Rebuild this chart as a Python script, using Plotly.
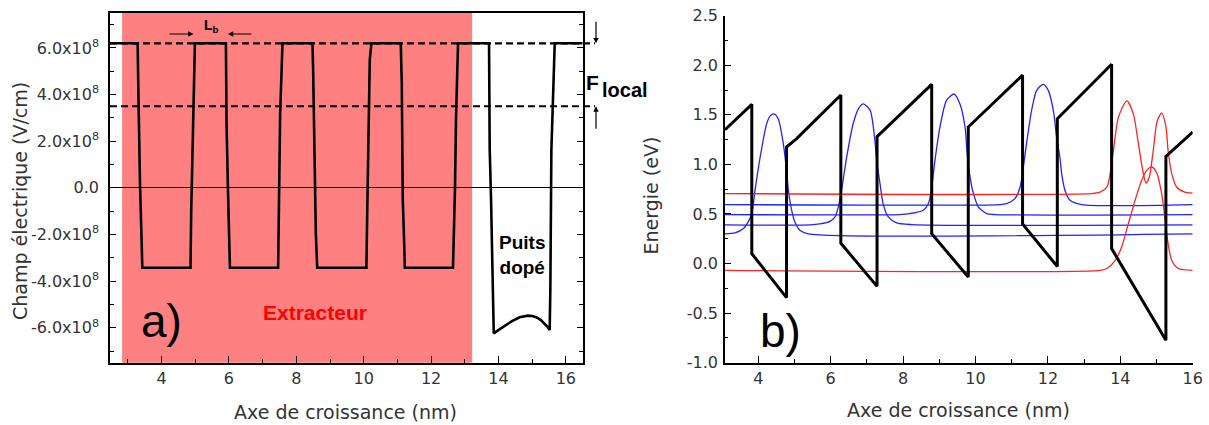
import plotly.graph_objects as go

W, H = 1209, 425

# ---------------- panel a) : electric field ----------------
field_x = [2.47, 3.29, 3.31, 3.36, 3.43, 4.86, 4.88, 4.93, 4.99, 5.91, 5.93, 5.97, 6.00, 6.03,
           7.46, 7.48, 7.52, 7.59, 8.48, 8.50, 8.55, 8.58, 8.62, 10.08, 10.10, 10.14, 10.18, 10.23,
           11.10, 11.13, 11.16, 11.20, 11.22, 12.65, 12.67, 12.71, 12.74, 12.78, 12.80,
           13.72, 13.74, 13.78, 13.82, 13.84, 13.86, 14.05, 14.23, 14.40, 14.63, 14.75, 14.87,
           15.00, 15.12, 15.25, 15.37, 15.45, 15.52, 15.54, 15.57, 15.62, 15.67, 16.5]
field_y = [6.2e8, 6.2e8, 4.3e8, 0.2e8, -3.43e8, -3.43e8, -1.0e8, 3.0e8, 6.2e8, 6.2e8, 2.7e8, 0.0, -2.3e8, -3.43e8,
           -3.43e8, -1.8e8, 3.2e8, 6.2e8, 6.2e8, 5.0e8, -0.5e8, -2.0e8, -3.43e8, -3.43e8, -1.5e8, 2.0e8, 5.5e8, 6.2e8,
           6.2e8, 4.5e8, -0.5e8, -2.3e8, -3.43e8, -3.43e8, -2.5e8, 0.0, 3.0e8, 6.0e8, 6.2e8,
           6.2e8, 1.65e8, -0.5e8, -3.0e8, -4.5e8, -6.24e8, -6.05e8, -5.88e8, -5.72e8, -5.55e8, -5.5e8, -5.48e8,
           -5.5e8, -5.55e8, -5.66e8, -5.81e8, -5.95e8, -6.1e8, -4.3e8, 1.6e8, 3.9e8, 6.2e8, 6.2e8]

extractor_range = [2.83, 13.22]
dashed_levels = [6.2e8, 3.5e8]
lb_edges = [4.95, 5.97]
lb_tails = [4.19, 6.71]
lb_arrow_level = 6.6e8

a_yticks = [6e8, 4e8, 2e8, 0, -2e8, -4e8, -6e8]
a_yticktext = ["6.0x10<sup>8</sup>", "4.0x10<sup>8</sup>", "2.0x10<sup>8</sup>", "0.0",
               "-2.0x10<sup>8</sup>", "-4.0x10<sup>8</sup>", "-6.0x10<sup>8</sup>"]
a_xticks = [4, 6, 8, 10, 12, 14, 16]

# ---------------- panel b) : band diagram ----------------
band_x = [3.08, 3.82, 3.82, 4.78, 4.78, 5.06, 6.28, 6.28, 7.28, 7.28, 8.79, 8.79, 9.80, 9.80,
          11.30, 11.30, 12.26, 12.26, 13.76, 13.76, 15.26, 15.26, 16.0]
band_y = [1.35, 1.606, 0.10, -0.343, 1.175, 1.26, 1.70, 0.205, -0.23, 1.28, 1.807, 0.30, -0.135, 1.377,
          1.90, 0.40, -0.03, 1.46, 2.01, 0.151, -0.773, 1.08, 1.327]

wf_blue1_x = [3.08, 3.36, 3.59, 3.72, 3.82, 3.91, 4.05, 4.23, 4.33, 4.43, 4.55, 4.69, 4.78, 4.83,
              4.92, 5.01, 5.15, 5.38, 16.0]
wf_blue1_y = [0.30, 0.31, 0.353, 0.42, 0.50, 0.74, 1.07, 1.41, 1.49, 1.51, 1.46, 1.21, 0.94, 0.74,
              0.54, 0.42, 0.336, 0.30, 0.30]

wf_blue2_x = [3.08, 5.43, 5.70, 5.98, 6.12, 6.21, 6.30, 6.44, 6.62, 6.78, 6.90, 7.09, 7.22, 7.27,
              7.36, 7.45, 7.59, 7.82, 8.24, 16.0]
wf_blue2_y = [0.39, 0.39, 0.40, 0.426, 0.47, 0.57, 0.74, 1.07, 1.41, 1.57, 1.61, 1.545, 1.24, 1.04,
              0.81, 0.60, 0.47, 0.41, 0.393, 0.39]

wf_blue3_x = [3.08, 7.90, 8.19, 8.56, 8.70, 8.79, 8.88, 9.02, 9.20, 9.41, 9.57, 9.71, 9.77, 9.85,
              9.94, 10.08, 10.31, 10.54, 16.0]
wf_blue3_y = [0.494, 0.494, 0.504, 0.537, 0.605, 0.77, 1.04, 1.38, 1.646, 1.71, 1.61, 1.38, 1.11, 0.87,
              0.71, 0.57, 0.504, 0.494, 0.494]

wf_blue4_x = [3.08, 10.68, 10.86, 11.09, 11.23, 11.32, 11.41, 11.55, 11.69, 11.87, 12.01, 12.15,
              12.24, 12.33, 12.38, 12.47, 12.61, 12.93, 16.0]
wf_blue4_y = [0.595, 0.595, 0.605, 0.655, 0.77, 0.97, 1.21, 1.545, 1.747, 1.807, 1.747, 1.545,
              1.276, 1.075, 0.907, 0.74, 0.638, 0.595, 0.595]

wf_red1_x = [3.08, 13.21, 13.44, 13.63, 13.72, 13.81, 13.95, 14.18, 14.36, 14.50, 14.62, 14.71,
             14.80, 14.91, 15.02, 15.14, 15.26, 15.32, 15.42, 15.56, 15.78, 16.0]
wf_red1_y = [0.706, 0.706, 0.72, 0.77, 0.91, 1.14, 1.48, 1.64, 1.51, 1.21, 0.94, 0.81,
             0.87, 1.14, 1.44, 1.52, 1.38, 1.14, 0.91, 0.77, 0.72, 0.71]

wf_red2_x = [3.08, 13.44, 13.63, 13.86, 14.04, 14.22, 14.41, 14.59, 14.73, 14.87, 15.01, 15.14,
             15.23, 15.32, 15.42, 15.60, 16.0]
wf_red2_y = [-0.068, -0.068, -0.05, 0.033, 0.17, 0.40, 0.64, 0.84, 0.94, 0.974, 0.91, 0.71,
             0.47, 0.20, 0.033, -0.05, -0.068]

b_yticks = [2.5, 2.0, 1.5, 1.0, 0.5, 0.0, -0.5, -1.0]
b_yticktext = ["2.5", "2.0", "1.5", "1.0", "0.5", "0.0", "-0.5", "-1.0"]
b_xticks = [4, 6, 8, 10, 12, 14, 16]

BLUE = "rgb(35,35,255)"
RED = "rgb(255,35,35)"
TICKFONT = dict(family="DejaVu Sans", size=16, color="#333333")
TITLEFONT = dict(family="DejaVu Sans", size=19, color="#333333")

fig = go.Figure()

fig.add_trace(go.Scatter(x=field_x, y=field_y, mode="lines", line=dict(color="black", width=2.6),
                         xaxis="x", yaxis="y", showlegend=False, hoverinfo="skip"))

for xs, ys, col in [(wf_blue1_x, wf_blue1_y, BLUE), (wf_blue2_x, wf_blue2_y, BLUE),
                    (wf_blue3_x, wf_blue3_y, BLUE), (wf_blue4_x, wf_blue4_y, BLUE),
                    (wf_red1_x, wf_red1_y, RED), (wf_red2_x, wf_red2_y, RED)]:
    fig.add_trace(go.Scatter(x=xs, y=ys, mode="lines",
                             line=dict(color=col, width=1.3, shape="spline", smoothing=0.7),
                             xaxis="x2", yaxis="y2", showlegend=False, hoverinfo="skip"))

fig.add_trace(go.Scatter(x=band_x, y=band_y, mode="lines", line=dict(color="black", width=3),
                         xaxis="x2", yaxis="y2", showlegend=False, hoverinfo="skip"))

axis_common = dict(showline=True, linecolor="black", linewidth=1.5, ticks="inside",
                   tickcolor="black", tickwidth=1.2, showgrid=False, tickfont=TICKFONT,
                   automargin=False)

fig.update_layout(
    width=W, height=H, margin=dict(l=0, r=0, t=0, b=0, autoexpand=False),
    paper_bgcolor="white", plot_bgcolor="white",
    xaxis=dict(domain=[110 / W, 582.7 / W], range=[2.47, 16.5], anchor="y",
               tickmode="array", tickvals=a_xticks, ticklen=7, mirror=True, zeroline=False,
               minor=dict(dtick=1, tick0=0, ticklen=4, ticks="inside", tickcolor="black"),
               **axis_common),
    yaxis=dict(domain=[62.3 / H, 412 / H], range=[-7.5e8, 7.5e8], anchor="x",
               tickmode="array", tickvals=a_yticks, ticktext=a_yticktext, ticklen=6,
               ticklabelstandoff=6,
               mirror="ticks", zeroline=True, zerolinecolor="black", zerolinewidth=1,
               minor=dict(dtick=1e8, tick0=0, ticklen=4, ticks="inside", tickcolor="black"),
               **axis_common),
    xaxis2=dict(domain=[725 / W, 1192.7 / W], range=[3.08, 16], anchor="y2",
                tickmode="array", tickvals=b_xticks, ticklen=7, zeroline=False,
                minor=dict(dtick=1, tick0=0, ticklen=4, ticks="inside", tickcolor="black"),
                **axis_common),
    yaxis2=dict(domain=[62.3 / H, 409.3 / H], range=[-1.0, 2.5], anchor="x2",
                tickmode="array", tickvals=b_yticks, ticktext=b_yticktext, ticklen=6, zeroline=False,
                ticklabelstandoff=2,
                minor=dict(dtick=0.25, tick0=0, ticklen=3.5, ticks="inside", tickcolor="black"),
                **axis_common),
)

shapes = [dict(type="rect", xref="x", yref="y domain", x0=extractor_range[0], x1=extractor_range[1],
               y0=0, y1=1, fillcolor="#ff8080", line=dict(width=0), layer="below")]
for lvl in dashed_levels:
    shapes.append(dict(type="line", xref="paper", yref="y", x0=110 / W, x1=595 / W, y0=lvl, y1=lvl,
                       line=dict(color="black", width=2.2, dash="7px,4px"), layer="above"))
fig.update_layout(shapes=shapes)


def label(text, px, py, font, angle=0):
    return dict(text=text, xref="paper", yref="paper", x=px / W, y=(H - py) / H,
                xanchor="center", yanchor="middle", textangle=angle, showarrow=False, font=font)


ann = []
# axis titles
ann.append(label("Champ électrique (V/cm)", 19.5, 201.5, TITLEFONT, -90))
ann.append(label("Axe de croissance (nm)", 345.8, 411.7, TITLEFONT))
ann.append(label("Energie (eV)", 650.5, 196, TITLEFONT, -90))
ann.append(label("Axe de croissance (nm)", 958, 410, TITLEFONT))
# panel labels
ann.append(label("a)", 162, 321, dict(family="Liberation Sans", size=46, color="black")))
ann.append(label("b)", 780, 331, dict(family="Liberation Sans", size=46, color="black")))
# region labels
ann.append(label("<b>Extracteur</b>", 315, 312, dict(family="Liberation Sans", size=21, color="#ff0000")))
ann.append(label("<b>Puits<br>dopé</b>", 521.7, 255, dict(family="Liberation Sans", size=19, color="black")))
# F local
ann.append(label("<b>F</b>", 592, 82, dict(family="Liberation Sans", size=21, color="black")))
ann.append(label("<b>local</b>", 624.5, 89.5, dict(family="Liberation Sans", size=20, color="black")))
ann.append(dict(text="", xref="paper", yref="y", x=596 / W, y=dashed_levels[0], ax=0, ay=-23,
                showarrow=True, arrowhead=2, arrowsize=0.9, arrowwidth=1.2, arrowcolor="black", standoff=0))
ann.append(dict(text="", xref="paper", yref="y", x=596 / W, y=dashed_levels[1], ax=0, ay=24,
                showarrow=True, arrowhead=2, arrowsize=0.9, arrowwidth=1.2, arrowcolor="black", standoff=0))
# L_b
ann.append(dict(text="<b>L<sub>b</sub></b>", xref="x", yref="y", x=5.47, y=6.95e8, showarrow=False,
                xanchor="center", yanchor="middle",
                font=dict(family="Liberation Sans", size=14, color="black")))
for head, tail in zip(lb_edges, lb_tails):
    ann.append(dict(text="", xref="x", yref="y", x=head, y=lb_arrow_level, axref="x", ayref="y",
                    ax=tail, ay=lb_arrow_level, showarrow=True, arrowhead=2, arrowsize=0.9,
                    arrowwidth=1.2, arrowcolor="black", standoff=0))
fig.update_layout(annotations=ann)

fig.write_html("out.html", config={"displayModeBar": False},
               post_script="document.body.style.margin='0';document.body.style.overflow='hidden';")
